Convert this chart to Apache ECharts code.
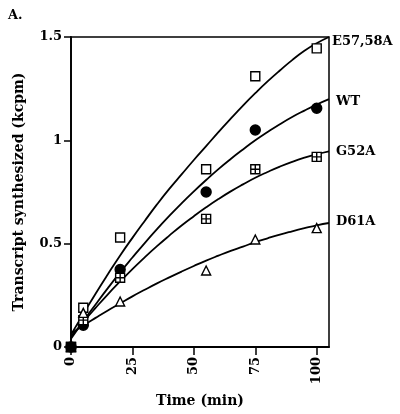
<!DOCTYPE html>
<html>
<head>
<meta charset="utf-8">
<script src="https://cdn.jsdelivr.net/npm/echarts@6/dist/echarts.min.js"></script>
<style>
html,body{margin:0;padding:0;background:#fff;}
#chart{width:400px;height:414px;}
</style>
</head>
<body>
<div id="chart"></div>
<script>
// ---- Data ----
var seriesNames = ['E57,58A', 'WT', 'G52A', 'D61A'];
var timePoints = [0, 5, 20, 55, 75, 100];
var e57Points = [0, 0.19, 0.53, 0.86, 1.31, 1.445];
var wtPoints = [0, 0.105, 0.375, 0.75, 1.05, 1.155];
var g52Points = [0, 0.13, 0.335, 0.62, 0.86, 0.92];
var d61Points = [0, 0.165, 0.22, 0.37, 0.52, 0.575];

// fitted curves at these times
var curveTimes = [0, 5, 10, 15, 20, 25, 30, 35, 40, 45, 50, 55, 60, 65, 70, 75, 80, 85, 90, 95, 100, 105];
var e57Curve = [0.06, 0.16, 0.258, 0.352, 0.443, 0.528, 0.61, 0.69, 0.765, 0.835, 0.905, 0.972, 1.04, 1.105, 1.168, 1.228, 1.285, 1.338, 1.388, 1.433, 1.47, 1.5];
var wtCurve = [0.04, 0.125, 0.206, 0.285, 0.361, 0.433, 0.503, 0.57, 0.634, 0.695, 0.753, 0.808, 0.861, 0.91, 0.956, 1.0, 1.04, 1.078, 1.113, 1.144, 1.173, 1.199];
var g52Curve = [0.05, 0.121, 0.189, 0.255, 0.317, 0.377, 0.434, 0.488, 0.539, 0.588, 0.633, 0.676, 0.716, 0.753, 0.787, 0.819, 0.847, 0.873, 0.896, 0.916, 0.933, 0.947];
var d61Curve = [0.065, 0.104, 0.141, 0.177, 0.211, 0.245, 0.277, 0.308, 0.337, 0.365, 0.392, 0.418, 0.442, 0.465, 0.486, 0.507, 0.526, 0.544, 0.56, 0.575, 0.589, 0.6];
var originPoint = [[0, 0]];

var xTicks = [0, 25, 50, 75, 100];
var yTicks = [0, 0.5, 1, 1.5];
var xAxisTitle = 'Time (min)';
var yAxisTitle = 'Transcript synthesized (kcpm)';
var panelLabel = 'A.';

function pairs(xs, ys) { return xs.map(function (x, i) { return [x, ys[i]]; }); }

var FONT = 'DejaVu Serif';
var boxPlus = 'path://M0 0 H10 V10 H0 Z M5 0 V10 M0 5 H10';

var curveSets = [e57Curve, wtCurve, g52Curve, d61Curve];
var pointSets = [e57Points, wtPoints, g52Points, d61Points];
var labelOffsets = [[0, 5], [4, 2], [4, 0], [4, -1]];
var symbols = ['rect', 'circle', boxPlus, 'triangle'];
var symbolSizes = [9, 10, 9, 9];
var fills = ['#fff', '#000', '#fff', '#fff'];

var series = [];
seriesNames.forEach(function (name, i) {
  series.push({
    name: name,
    type: 'line',
    data: pairs(curveTimes, curveSets[i]),
    smooth: true,
    showSymbol: false,
    symbol: 'none',
    lineStyle: { color: '#000', width: 1.8 },
    silent: true,
    z: 2,
    endLabel: {
      show: true,
      formatter: name,
      fontFamily: FONT,
      fontWeight: 'bold',
      fontSize: 13,
      color: '#000',
      distance: 3,
      offset: labelOffsets[i]
    }
  });
  series.push({
    name: name + ' data',
    type: 'scatter',
    data: pairs(timePoints, pointSets[i]),
    symbol: symbols[i],
    symbolSize: symbolSizes[i],
    itemStyle: { color: fills[i], borderColor: '#000', borderWidth: 1.4, opacity: 1 },
    z: 3
  });
});
series.push({
  name: 'origin',
  type: 'scatter',
  data: originPoint,
  symbol: 'rect',
  symbolSize: 9,
  itemStyle: { color: '#000', opacity: 1 },
  z: 4
});

var chart = echarts.init(document.getElementById('chart'), null, { renderer: 'canvas' });
chart.setOption({
  backgroundColor: '#fff',
  animation: false,
  title: {
    text: panelLabel,
    left: 3, top: 4,
    textStyle: { fontFamily: FONT, fontWeight: 'bold', fontSize: 13, color: '#000' }
  },
  grid: {
    left: 71, right: 71, top: 37, bottom: 67,
    show: true, borderColor: '#000', borderWidth: 1.5, backgroundColor: 'transparent'
  },
  xAxis: {
    type: 'value',
    min: 0, max: 105,
    name: xAxisTitle,
    nameLocation: 'middle',
    nameGap: 47,
    nameTextStyle: { fontFamily: FONT, fontWeight: 'bold', fontSize: 14, color: '#000' },
    axisLine: { show: true, onZero: false, lineStyle: { color: '#000', width: 1.8 } },
    axisTick: { show: true, length: 8, customValues: xTicks, lineStyle: { color: '#000', width: 1.5 } },
    axisLabel: {
      customValues: xTicks,
      rotate: 90,
      margin: 10,
      fontFamily: FONT, fontWeight: 'bold', fontSize: 13, color: '#000'
    },
    splitLine: { show: false }
  },
  yAxis: {
    type: 'value',
    min: 0, max: 1.5, interval: 0.5,
    name: yAxisTitle,
    nameLocation: 'middle',
    nameGap: 45,
    nameRotate: 90,
    nameTextStyle: { fontFamily: FONT, fontWeight: 'bold', fontSize: 14, color: '#000' },
    axisLine: { show: true, onZero: false, lineStyle: { color: '#000', width: 1.8 } },
    axisTick: { show: true, length: 7, lineStyle: { color: '#000', width: 1.5 } },
    axisLabel: {
      margin: 9,
      fontFamily: FONT, fontWeight: 'bold', fontSize: 13, color: '#000',
      formatter: function (v) { return String(v); }
    },
    splitLine: { show: false }
  },
  series: series
});
</script>
</body>
</html>
